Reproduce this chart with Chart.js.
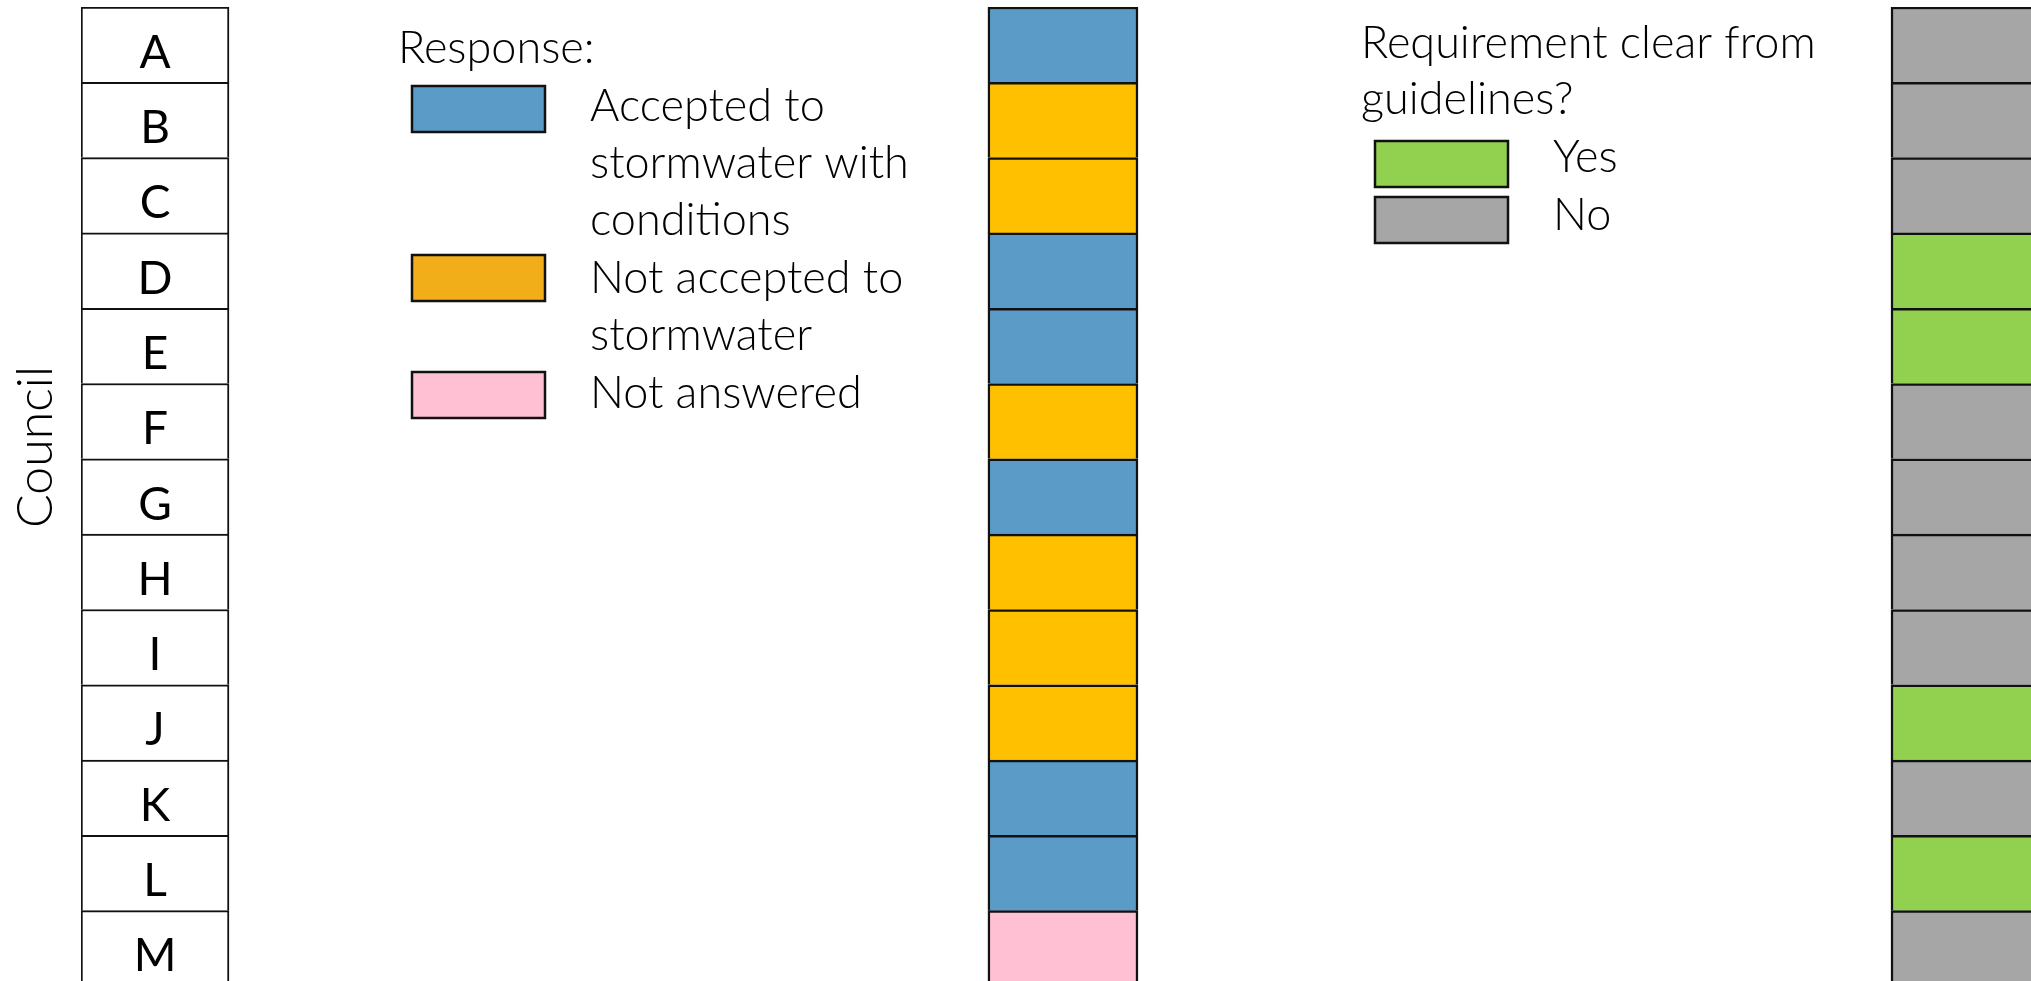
<!DOCTYPE html>
<html>
<head>
<meta charset="utf-8">
<title>Council responses</title>
<script src="https://cdn.jsdelivr.net/npm/chart.js@4.4.1/dist/chart.umd.min.js"></script>
<style>
    html, body { margin: 0; padding: 0; background: #ffffff; overflow: hidden; }
    #tableChart { display: block; }
</style>
</head>
<body>
<canvas id="tableChart" width="2031" height="990"></canvas>
<script>
// Rows of the table
var councils = ['A', 'B', 'C', 'D', 'E', 'F', 'G', 'H', 'I', 'J', 'K', 'L', 'M'];

// Response given by each council
var responses = ['accepted', 'notAccepted', 'notAccepted', 'accepted', 'accepted', 'notAccepted',
    'accepted', 'notAccepted', 'notAccepted', 'notAccepted', 'accepted', 'accepted', 'notAnswered'];

// Is the requirement clear from the guidelines?
var clearFromGuidelines = ['No', 'No', 'No', 'Yes', 'Yes', 'No', 'No', 'No', 'No', 'Yes', 'No', 'Yes', 'No'];

// Legend categories and their (wrapped) labels
var responseCategories = ['accepted', 'notAccepted', 'notAnswered'];
var responseLabels = [
    ['Accepted to', 'stormwater with', 'conditions'],
    ['Not accepted to', 'stormwater'],
    ['Not answered']
];
var clearCategories = ['Yes', 'No'];

// colours
var responseColors = { accepted: '#5B9BC8', notAccepted: '#FFC000', notAnswered: '#FFC0D3' };
var responseLegendColors = { accepted: '#5B9BC8', notAccepted: '#F2AE18', notAnswered: '#FFC0D3' };
var clearColors = { Yes: '#92D050', No: '#A6A6A6' };

// where each column sits on the (hidden) x scale, in column widths
var councilSpan = [0, 1];
var responseSpan = [6.128, 7.142];
var clearSpan = [12.23, 13.23];

var LINE = '#111111';
var FONT = 'Lato, "Open Sans", sans-serif';

// Draws the letters inside the council column, the axis title and both legends
var tablePlugin = {
    id: 'tableText',
    afterDatasetsDraw: function (chart) {
        var ctx = chart.ctx;
        var meta = chart.getDatasetMeta(0);
        ctx.save();
        ctx.fillStyle = '#000000';

        // council letters
        ctx.font = '400 46px ' + FONT;
        ctx.textAlign = 'center';
        ctx.textBaseline = 'alphabetic';
        meta.data.forEach(function (bar, i) {
            var c = bar.getCenterPoint();
            ctx.fillText(councils[i], c.x, c.y + 23);
        });

        // axis title
        ctx.save();
        ctx.font = '300 50px ' + FONT;
        ctx.translate(52, 447);
        ctx.rotate(-Math.PI / 2);
        ctx.fillText('Council', 0, 0);
        ctx.restore();

        // legend: response
        ctx.font = '300 45px ' + FONT;
        ctx.textAlign = 'left';
        ctx.fillText('Response:', 398, 63);
        var swatchTops = [86, 255, 372];
        var lineBase = [[121, 178, 235], [293, 350], [408]];
        responseCategories.forEach(function (cat, i) {
            drawSwatch(ctx, 412, swatchTops[i], 133, 46, responseLegendColors[cat]);
            responseLabels[i].forEach(function (line, j) {
                ctx.fillText(line, 590, lineBase[i][j]);
            });
        });

        // legend: requirement clear
        ctx.fillText('Requirement clear from', 1361, 58);
        ctx.fillText('guidelines?', 1361, 114);
        var clearTops = [141, 197];
        var clearBase = [172, 230];
        clearCategories.forEach(function (cat, i) {
            drawSwatch(ctx, 1375, clearTops[i], 133, 46, clearColors[cat]);
            ctx.fillText(cat, 1553, clearBase[i]);
        });

        ctx.restore();
    }
};

function drawSwatch(ctx, x, y, w, h, color) {
    ctx.fillStyle = color;
    ctx.fillRect(x, y, w, h);
    ctx.lineWidth = 2.5;
    ctx.strokeStyle = LINE;
    ctx.strokeRect(x, y, w, h);
    ctx.fillStyle = '#000000';
}

function spanFor(span) {
    return councils.map(function () { return span.slice(); });
}

var cellBorder = { top: 2.5, left: 2.5, right: 2.5, bottom: 0 };

window.onload = function () {
    var ctx = document.getElementById('tableChart');
    new Chart(ctx, {
        type: 'bar',
        data: {
            labels: councils,
            datasets: [{
                label: 'Council',
                data: spanFor(councilSpan),
                backgroundColor: '#ffffff',
                borderColor: LINE,
                borderWidth: { top: 2, left: 2, right: 2, bottom: 0 }
            }, {
                label: 'Response',
                data: spanFor(responseSpan),
                backgroundColor: responses.map(function (r) { return responseColors[r]; }),
                borderColor: LINE,
                borderWidth: cellBorder
            }, {
                label: 'Requirement clear from guidelines?',
                data: spanFor(clearSpan),
                backgroundColor: clearFromGuidelines.map(function (r) { return clearColors[r]; }),
                borderColor: LINE,
                borderWidth: cellBorder
            }]
        },
        options: {
            indexAxis: 'y',
            responsive: false,
            animation: false,
            layout: { padding: { left: 81, top: 7, right: 0, bottom: 4 } },
            datasets: {
                bar: {
                    grouped: false,
                    barPercentage: 1,
                    categoryPercentage: 1,
                    borderSkipped: false
                }
            },
            scales: {
                x: { type: 'linear', display: false, min: 0, max: 13.176 },
                y: { display: false }
            },
            plugins: {
                legend: { display: false },
                tooltip: { enabled: false }
            }
        },
        plugins: [tablePlugin]
    });
};
</script>
</body>
</html>
